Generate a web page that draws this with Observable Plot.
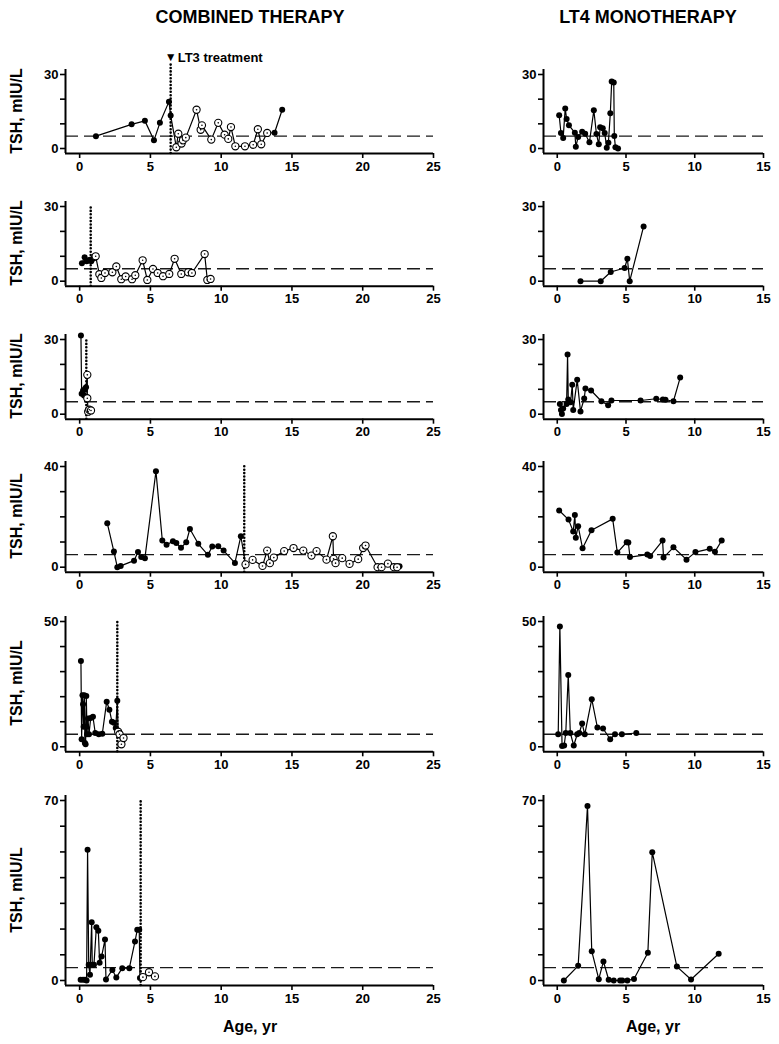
<!DOCTYPE html>
<html><head><meta charset="utf-8">
<script src="https://cdn.jsdelivr.net/npm/d3@7"></script>
<script src="https://cdn.jsdelivr.net/npm/@observablehq/plot@0.6"></script>
<style>
body{margin:0;background:#fff;}
#fig{position:relative;width:779px;height:1044px;overflow:hidden;font-family:"Liberation Sans",Arial,Helvetica,sans-serif;font-weight:bold;color:#000;}
.t{position:absolute;white-space:nowrap;line-height:1;}
.p{position:absolute;}
</style></head><body><div id="fig"></div>
<script>
// ---------------- data ----------------
const colTitles = ["COMBINED THERAPY", "LT4 MONOTHERAPY"];
const yLabel = "TSH, mIU/L";
const xLabel = "Age, yr";
const lt3Label = "LT3 treatment";
const lt3Marker = "▼";
const normalTSH = 5;
const yMax = [30, 30, 30, 40, 50, 70];
const lt3Start = [6.43, 0.78, 0.47, 11.63, 2.66, 4.31];
const leftXTicks = [0, 5, 10, 15, 20, 25];
const rightXTicks = [0, 5, 10, 15];

// combined therapy (open = 1 : on LT3 treatment, open circle)
const c1Age = [1.15,3.67,4.61,5.25,5.67,6.31,6.43,6.83,6.97,7.2,7.3,7.5,8.26,8.55,8.64,9.3,9.79,10.24,10.5,10.69,11.0,11.68,12.26,12.59,12.83,13.25,13.77,14.31];
const c1Tsh = [5,9.8,11.2,3.3,10.4,19,13.4,0.5,6,2,3.3,4.4,15.7,7.6,9.4,3.6,10.4,5.6,3.9,8.7,0.9,0.9,1.5,7.8,1.7,6.3,6.4,15.7];
const c1Open = [0,0,0,0,0,0,0,1,1,1,1,1,1,1,1,1,1,1,1,1,1,1,1,1,1,1,0,0];

const c2Age = [0.16,0.35,0.49,0.61,0.73,0.82,0.97,1.13,1.39,1.53,1.79,2.31,2.59,2.94,3.25,3.7,3.93,4.45,4.78,5.18,5.51,5.89,6.33,6.71,7.18,7.67,7.93,8.83,9.02,9.25];
const c2Tsh = [7.2,9.6,8.0,8.3,8.6,8.0,9.1,10.0,2.8,1.3,3.3,3.6,5.9,0.8,1.9,0.8,2.4,8.4,0.5,4.9,3.3,2.0,2.9,9.0,2.9,3.6,3.3,10.9,0.5,0.9];
const c2Open = [0,0,0,0,0,0,0,1,1,1,1,1,1,1,1,1,1,1,1,1,1,1,1,1,1,1,1,1,1,1];

const c3Age = [0.09,0.14,0.24,0.31,0.38,0.45,0.54,0.54,0.6,0.68,0.8];
const c3Tsh = [31.6,8.2,9.5,7.5,10.2,10.8,15.8,6.4,1.0,1.8,1.5];
const c3Open = [0,0,0,0,0,0,1,1,1,1,1];

const c4Age = [1.95,2.42,2.66,2.9,3.84,4.12,4.35,4.61,5.39,5.84,6.14,6.59,6.83,7.16,7.53,7.79,8.38,9.06,9.37,9.79,10.17,10.97,11.39,11.72,12.22,12.92,13.25,13.44,13.72,14.45,15.11,15.8,16.38,16.74,17.44,17.89,17.94,18.08,18.55,19.07,19.68,20.03,20.2,21.05,21.33,21.78,22.2,22.43,22.6];
const c4Tsh = [17.5,6.2,0,0.5,2.6,6.0,4.0,3.6,38.1,10.6,8.9,10.3,9.6,7.7,9.9,15.2,9.3,4.9,8.2,8.3,6.6,1.7,12.3,1.1,2.9,0.5,6.6,1.6,3.8,6.4,7.6,6.6,4.6,6.4,3.0,12.3,3.3,1.6,3.6,1.3,3.2,7.6,8.6,0,0,1.4,0,0,0.4];
const c4Open = [0,0,0,0,0,0,0,0,0,0,0,0,0,0,0,0,0,0,0,0,0,0,0,1,1,1,1,1,1,1,1,1,1,1,1,1,1,1,1,1,1,1,1,1,1,1,1,1,0];

const c5Age = [0.09,0.14,0.2,0.24,0.28,0.33,0.37,0.42,0.47,0.52,0.59,0.66,0.78,0.94,1.1,1.35,1.6,1.91,2.1,2.28,2.42,2.55,2.66,2.72,2.82,2.95,3.1];
const c5Tsh = [34.2,3,20.6,17,8,20.6,1.5,1,20.3,5,11.3,5,11.5,12,5.5,5,5.2,18,14.8,10,9.6,7.5,18.4,6,5,1,3.5];
const c5Open = [0,0,0,0,0,0,0,0,0,0,0,0,0,0,0,0,0,0,0,0,0,0,0,1,1,1,1];

const c6Age = [0.07,0.24,0.38,0.49,0.56,0.64,0.73,0.85,0.89,1.01,1.18,1.32,1.41,1.55,1.79,1.86,2.31,2.59,3.01,3.51,3.91,4.07,4.21,4.26,4.47,4.9,5.32];
const c6Tsh = [0.3,0.3,0.3,0,50.8,6.1,2.2,22.7,6.1,6.1,20.7,19.3,6.9,9.3,15.9,0.4,4.1,1.2,4.8,4.8,15.2,19.7,19.7,1.0,1.3,3.2,1.6];
const c6Open = [0,0,0,0,0,0,0,0,0,0,0,0,0,0,0,0,0,0,0,0,0,0,0,0,1,1,1];

// LT4 monotherapy
const m1Age = [0.14,0.27,0.43,0.58,0.68,0.85,1.28,1.35,1.52,1.81,2.03,2.34,2.66,2.85,3.02,3.12,3.31,3.45,3.6,3.72,3.86,3.96,4.11,4.15,4.23,4.42];
const m1Tsh = [13.5,6.3,4.3,16.2,12.0,9.4,6.4,0.7,4.7,6.8,6.0,2.5,15.5,5.9,1.7,8.6,8.2,6.3,0.3,2.3,14.3,27.2,26.8,5.1,0.5,0];
const m2Age = [1.69,3.16,3.89,4.9,5.1,5.27,6.28];
const m2Tsh = [0,0,3.7,5.3,9.0,0,22.0];
const m3Age = [0.19,0.27,0.34,0.43,0.68,0.75,0.8,0.97,1.09,1.16,1.45,1.69,1.96,2.05,2.46,3.21,3.7,3.94,6.06,7.2,7.68,7.87,8.45,8.94];
const m3Tsh = [4.1,1.7,0.1,2.3,4.1,24.0,5.9,4.8,11.8,1.7,13.8,1.1,6.3,10.3,9.5,5.2,3.6,5.5,5.5,6.2,5.9,5.8,5.2,14.7];
const m4Age = [0.14,0.82,1.16,1.28,1.35,1.52,1.84,2.49,4.03,4.37,5.05,5.17,5.29,6.55,6.76,7.66,7.73,8.45,9.4,10.05,11.09,11.47,11.96];
const m4Tsh = [22.5,18.9,14.2,20.7,11.7,16.3,7.5,14.7,19.2,5.8,9.9,9.8,4.0,5.0,4.4,10.6,3.8,7.9,3.0,6.0,7.3,6.1,10.6];
const m5Age = [0.07,0.19,0.35,0.5,0.62,0.8,0.95,1.2,1.45,1.6,1.81,2.0,2.51,2.92,3.33,3.85,4.2,4.7,5.75];
const m5Tsh = [5,48,0.3,0.5,5.5,28.7,5.5,0.5,5,5.5,9.3,5,19,7.7,7.3,3,5,5,5.5];
const m6Age = [0.48,1.52,2.2,2.51,3.02,3.36,3.74,4.11,4.57,4.73,5.1,5.58,6.59,6.91,8.7,9.73,11.74];
const m6Tsh = [0,5.7,67.9,11.4,0.5,7.4,0.3,0,0,0,0,0.6,10.8,49.9,5.4,0.4,10.4];

const combined = [[c1Age,c1Tsh,c1Open],[c2Age,c2Tsh,c2Open],[c3Age,c3Tsh,c3Open],[c4Age,c4Tsh,c4Open],[c5Age,c5Tsh,c5Open],[c6Age,c6Tsh,c6Open]];
const mono = [[m1Age,m1Tsh],[m2Age,m2Tsh],[m3Age,m3Tsh],[m4Age,m4Tsh],[m5Age,m5Tsh],[m6Age,m6Tsh]];

// ---------------- layout ----------------
const rowTop  = [74, 206, 339, 466, 620.7, 800];   // pixel of top tick
const rowZero = [148, 280.7, 413.7, 566.7, 746, 980]; // pixel of 0
const colL = [65, 543], colR = [433, 763];
const xDom = [[-1, 25], [-1, 15]];
const FONT = "'Liberation Sans', Arial, Helvetica, sans-serif";
const fig = document.getElementById("fig");

function addText(txt, x, y, size, rotate) {
  const d = document.createElement("div");
  d.className = "t";
  d.textContent = txt;
  d.style.fontSize = size + "px";
  d.style.left = x + "px";
  d.style.top = y + "px";
  d.style.transform = "translate(-50%,-50%)" + (rotate ? " rotate(-90deg)" : "");
  fig.appendChild(d);
}

function panel(col, row, pts, lt3) {
  const ymax = yMax[row];
  const ppu = (rowZero[row] - rowTop[row]) / ymax;
  const pad = 5 / ppu;
  const yDom = [-pad, ymax + pad];
  const plotTop = rowTop[row] - 5, plotBottom = rowZero[row] + 5;
  const mt = (col === 0 && row === 0) ? 32 : 12;
  const mb = 28, ml = col === 0 ? 65 : 42, mr = 14;
  const w = ml + (colR[col] - colL[col]) + mr;
  const h = mt + (plotBottom - plotTop) + mb;
  const filled = pts.filter(d => !d.open);
  const open = pts.filter(d => d.open);
  const yt = d3.range(0, ymax + 1, 10);
  const marks = [
    Plot.ruleY([normalTSH], {stroke: "#1a1a1a", strokeWidth: 1.3, strokeDasharray: "13,6"}),
  ];
  if (lt3 != null) {
    marks.push(Plot.ruleX([{x: lt3, y1: yDom[0], y2: row === 0 ? 35 : ymax}],
      {x: "x", y1: "y1", y2: "y2", stroke: "black", strokeWidth: 2.6, strokeDasharray: "0,3.4", strokeLinecap: "round"}));
  }
  marks.push(
    Plot.line(pts, {x: "age", y: "tsh", stroke: "black", strokeWidth: 1.2}),
    Plot.dot(filled, {x: "age", y: "tsh", r: 3, fill: "black", stroke: "none"}),
    Plot.dot(open, {x: "age", y: "tsh", r: 3.6, fill: "white", stroke: "black", strokeWidth: 1.1}),
    Plot.dot(open, {x: "age", y: "tsh", r: 0.8, fill: "black", stroke: "none"}),
    Plot.ruleX([xDom[col][0]], {stroke: "black", strokeWidth: 2}),
    Plot.ruleY([yDom[0]], {stroke: "black", strokeWidth: 2}),
    Plot.axisX({ticks: col === 0 ? leftXTicks : rightXTicks, tickSize: 5, tickPadding: 3, strokeWidth: 1.6, label: null, tickFormat: d => String(d)}),
    Plot.axisY({ticks: yt, tickSize: 5, tickPadding: 2, strokeWidth: 1.6, label: null, tickFormat: d => (d === 0 || d === ymax) ? String(d) : ""})
  );
  if (col === 0 && row === 0) {
    marks.push(
      Plot.text([{x: lt3, y: 36.9, s: lt3Marker}], {x: "x", y: "y", text: "s", fontSize: 12, textAnchor: "middle", fill: "black"}),
      Plot.text([{x: lt3, y: 36.9, s: lt3Label}], {x: "x", y: "y", text: "s", fontSize: 13, textAnchor: "start", dx: 7, fill: "black"})
    );
  }
  const svg = Plot.plot({
    width: w, height: h, marginTop: mt, marginBottom: mb, marginLeft: ml, marginRight: mr,
    x: {domain: xDom[col]},
    y: {domain: yDom},
    style: {fontFamily: FONT, fontSize: "13px", fontWeight: "bold", color: "black", background: "transparent", overflow: "visible"},
    marks
  });
  const wrap = document.createElement("div");
  wrap.className = "p";
  wrap.style.left = (colL[col] - ml) + "px";
  wrap.style.top = (plotTop - mt) + "px";
  wrap.appendChild(svg);
  fig.appendChild(wrap);
  return (plotTop + plotBottom) / 2;
}

for (let r = 0; r < 6; r++) {
  const [a, t, o] = combined[r];
  const ptsC = a.map((v, i) => ({age: v, tsh: t[i], open: o[i] === 1}));
  const mid = panel(0, r, ptsC, lt3Start[r]);
  addText(yLabel, 17, mid, 16, true);
  const [ma, mtv] = mono[r];
  const ptsM = ma.map((v, i) => ({age: v, tsh: mtv[i], open: false}));
  panel(1, r, ptsM, null);
}
addText(colTitles[0], 250, 17, 18, false);
addText(colTitles[1], 648, 17, 18, false);
addText(xLabel, 250, 1027, 16, false);
addText(xLabel, 653, 1027, 16, false);
</script></body></html>
